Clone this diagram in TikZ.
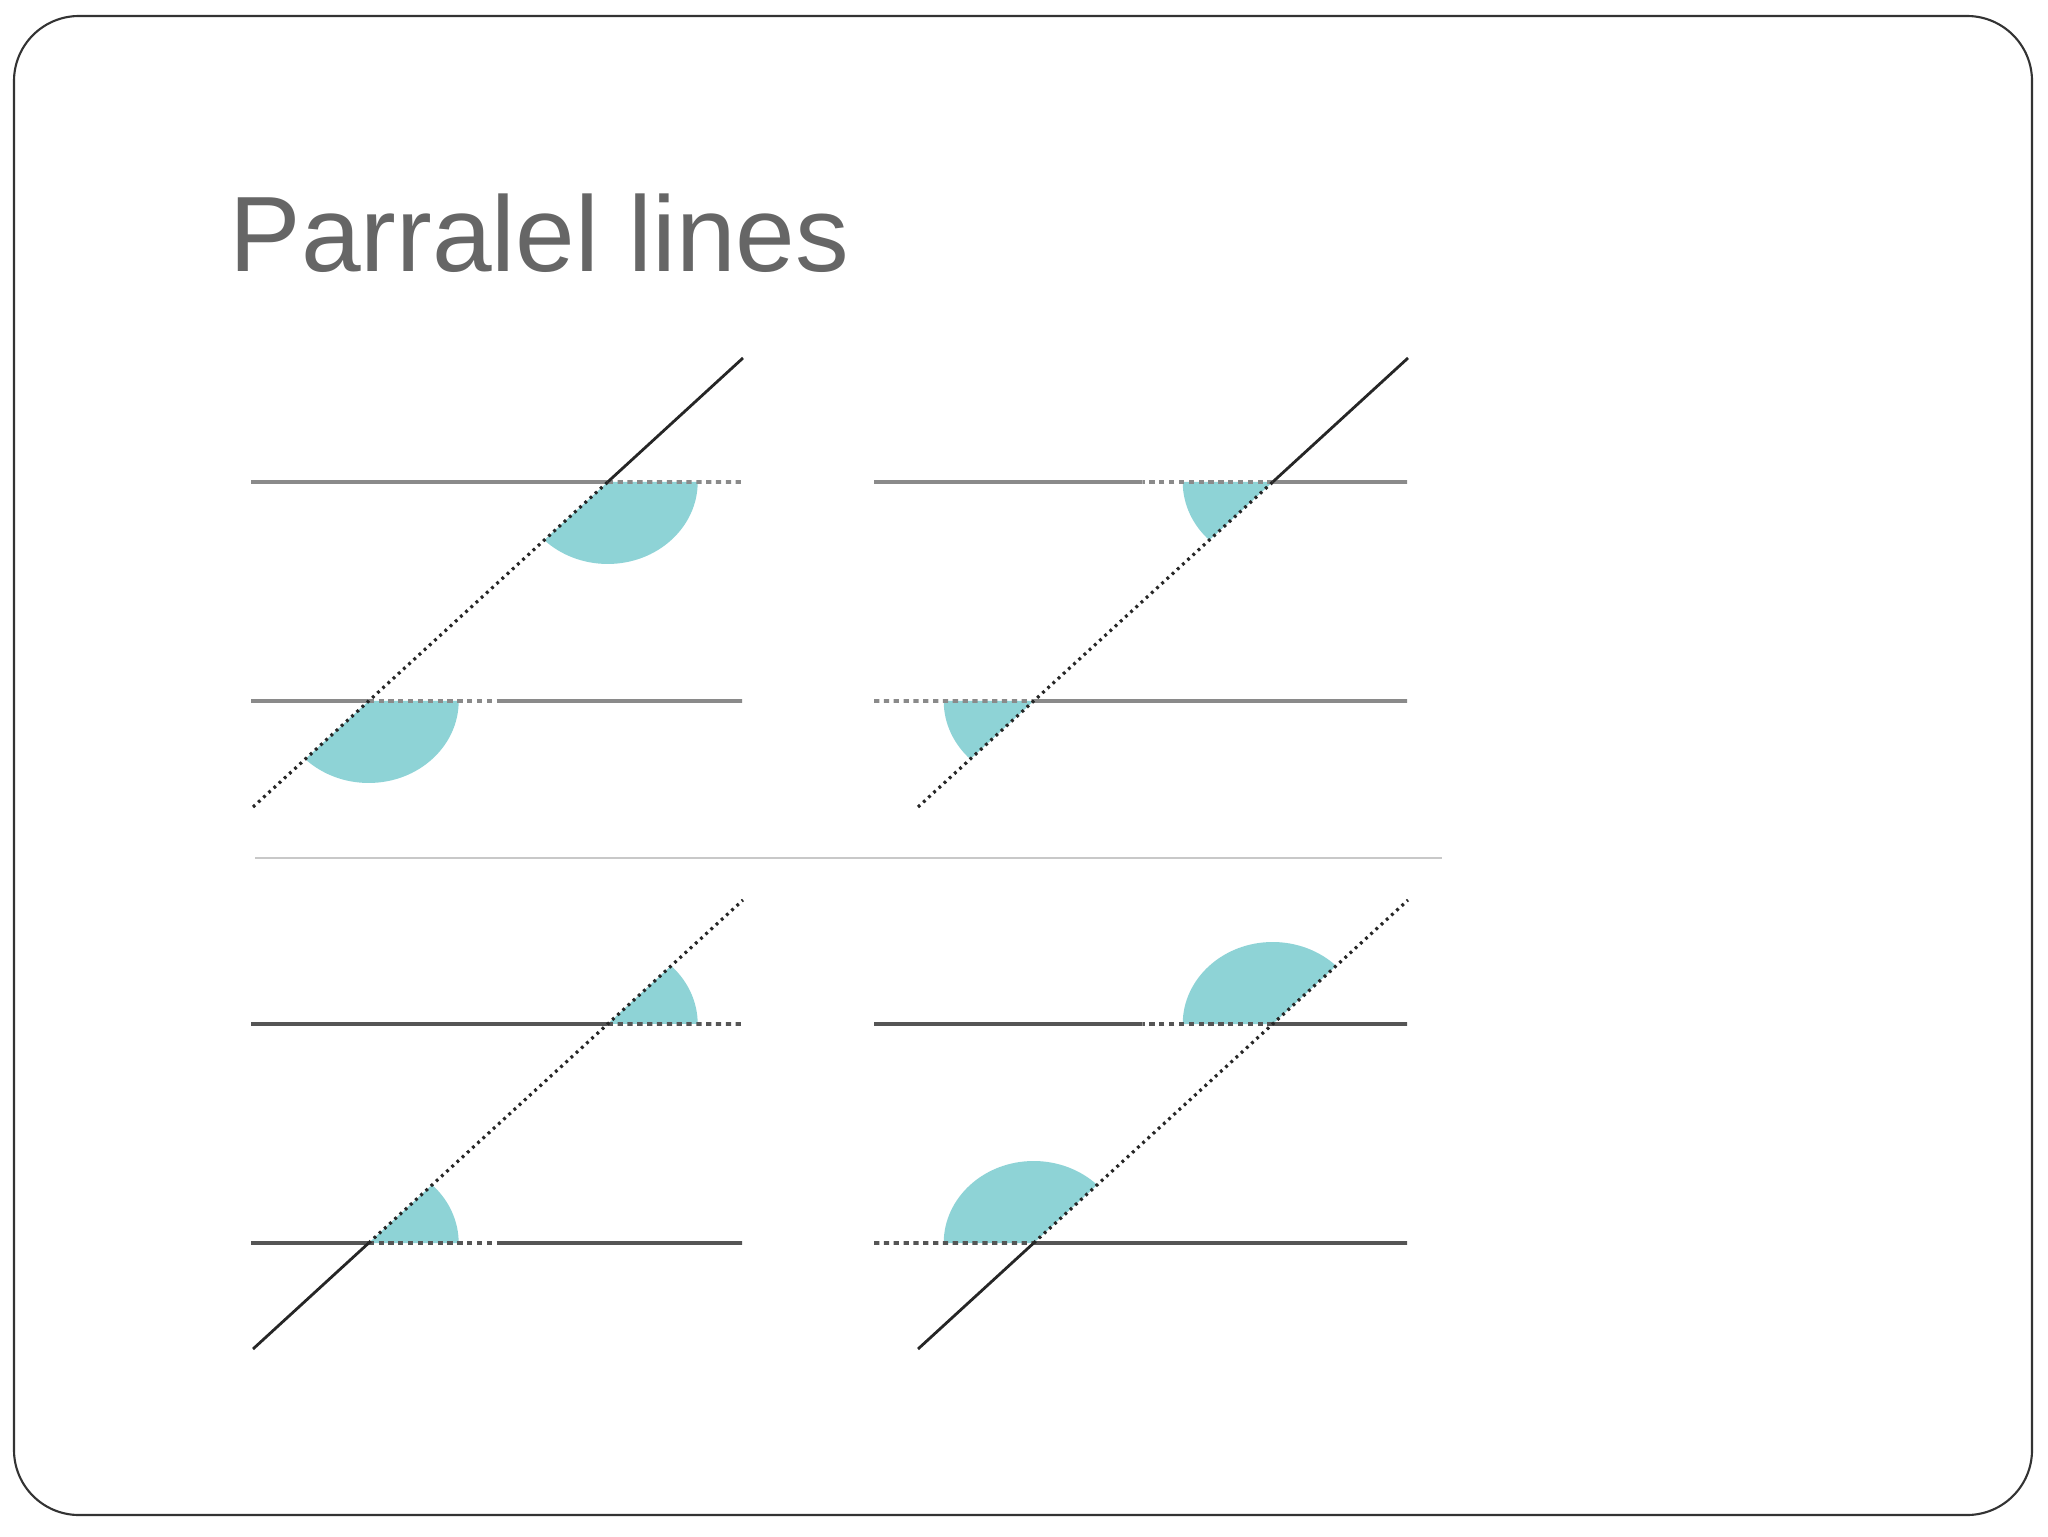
\documentclass[tikz,border=0pt]{standalone}
\usepackage{fontspec}
\setmainfont{Liberation Sans}
\usetikzlibrary{calc}

\definecolor{titlegray}{HTML}{666666}
\definecolor{framegray}{HTML}{333333}
\definecolor{linegray}{HTML}{8A8A8A}
\definecolor{linedark}{HTML}{555555}
\definecolor{anglecol}{RGB}{142,211,214}
\definecolor{sepgray}{HTML}{C8C8C8}

\tikzset{
  hline/.style={line width=1.1pt, draw=#1},
  hline/.default=linegray,
  hdash/.style={hline=#1, dash pattern=on 1.5pt off 1.3pt},
  hdash/.default=linegray,
  tline/.style={line width=0.8pt, draw=black!85},
  tdot/.style={tline, line width=0.9pt, dash pattern=on 0.8pt off 1.2pt},
  angfill/.style={fill=anglecol},
}

\begin{document}
\begin{tikzpicture}[x=0.1mm,y=0.1mm]
  \useasboundingbox (0,0) rectangle (2048,1536);
  \draw[framegray, line width=0.6pt, rounded corners=6.5mm] (14,21) rectangle (2032,1520);
  \node[anchor=base west, inner sep=0pt, text=titlegray, font=\fontsize{30.5}{36}\selectfont] (title) at (229,1264) {Parralel lines};

  % top left
  \coordinate (t1a) at (253,729);  \coordinate (t1b) at (743,1178);
  \coordinate (u1a) at (251,1054); \coordinate (u1b) at (742,1054);
  \coordinate (l1a) at (251,835);  \coordinate (l1b) at (742,835);
  \coordinate (p1u) at (intersection of t1a--t1b and u1a--u1b);
  \coordinate (p1l) at (intersection of t1a--t1b and l1a--l1b);
  \fill[angfill] (p1u) -- ++(90,0) arc[start angle=0, end angle=-134.8, x radius=90, y radius=82] -- cycle;
  \fill[angfill] (p1l) -- ++(90,0) arc[start angle=0, end angle=-134.8, x radius=90, y radius=82] -- cycle;
  \draw[hline] (u1a) -- (p1u);
  \draw[hdash] (p1u) -- (u1b);
  \draw[hdash] (p1l) -- ++(130,0) coordinate (d1);
  \draw[hline] (l1a) -- (p1l) (d1) -- (l1b);
  \draw[tline] (p1u) -- (t1b);
  \draw[tdot] (t1a) -- (p1u);

  % top right
  \coordinate (t2a) at (918,729);  \coordinate (t2b) at (1408,1178);
  \coordinate (u2a) at (874,1054); \coordinate (u2b) at (1407,1054);
  \coordinate (l2a) at (874,835);  \coordinate (l2b) at (1407,835);
  \coordinate (p2u) at (intersection of t2a--t2b and u2a--u2b);
  \coordinate (p2l) at (intersection of t2a--t2b and l2a--l2b);
  \fill[angfill] (p2u) -- ++(-90,0) arc[start angle=180, end angle=225.2, x radius=90, y radius=82] -- cycle;
  \fill[angfill] (p2l) -- ++(-90,0) arc[start angle=180, end angle=225.2, x radius=90, y radius=82] -- cycle;
  \draw[hdash] (p2u) -- ++(-130,0) coordinate (d2);
  \draw[hline] (u2a) -- (d2) (p2u) -- (u2b);
  \draw[hdash] (l2a) -- (p2l);
  \draw[hline] (p2l) -- (l2b);
  \draw[tline] (p2u) -- (t2b);
  \draw[tdot] (t2a) -- (p2u);

  \draw[sepgray, line width=0.45pt] (255,678) -- (1442,678);

  % bottom left
  \coordinate (t3a) at (253,187);  \coordinate (t3b) at (743,636);
  \coordinate (u3a) at (251,512);  \coordinate (u3b) at (742,512);
  \coordinate (l3a) at (251,293);  \coordinate (l3b) at (742,293);
  \coordinate (p3u) at (intersection of t3a--t3b and u3a--u3b);
  \coordinate (p3l) at (intersection of t3a--t3b and l3a--l3b);
  \fill[angfill] (p3u) -- ++(90,0) arc[start angle=0, end angle=45.2, x radius=90, y radius=82] -- cycle;
  \fill[angfill] (p3l) -- ++(90,0) arc[start angle=0, end angle=45.2, x radius=90, y radius=82] -- cycle;
  \draw[hline=linedark] (u3a) -- (p3u);
  \draw[hdash=linedark] (p3u) -- (u3b);
  \draw[hdash=linedark] (p3l) -- ++(130,0) coordinate (d3);
  \draw[hline=linedark] (l3a) -- (p3l) (d3) -- (l3b);
  \draw[tline] (t3a) -- (p3l);
  \draw[tdot] (p3l) -- (t3b);

  % bottom right
  \coordinate (t4a) at (918,187);  \coordinate (t4b) at (1408,636);
  \coordinate (u4a) at (874,512);  \coordinate (u4b) at (1407,512);
  \coordinate (l4a) at (874,293);  \coordinate (l4b) at (1407,293);
  \coordinate (p4u) at (intersection of t4a--t4b and u4a--u4b);
  \coordinate (p4l) at (intersection of t4a--t4b and l4a--l4b);
  \fill[angfill] (p4u) -- ++(-90,0) arc[start angle=180, end angle=45.2, x radius=90, y radius=82] -- cycle;
  \fill[angfill] (p4l) -- ++(-90,0) arc[start angle=180, end angle=45.2, x radius=90, y radius=82] -- cycle;
  \draw[hdash=linedark] (p4u) -- ++(-130,0) coordinate (d4);
  \draw[hline=linedark] (u4a) -- (d4) (p4u) -- (u4b);
  \draw[hdash=linedark] (l4a) -- (p4l);
  \draw[hline=linedark] (p4l) -- (l4b);
  \draw[tline] (t4a) -- (p4l);
  \draw[tdot] (p4l) -- (t4b);
\end{tikzpicture}
\end{document}
